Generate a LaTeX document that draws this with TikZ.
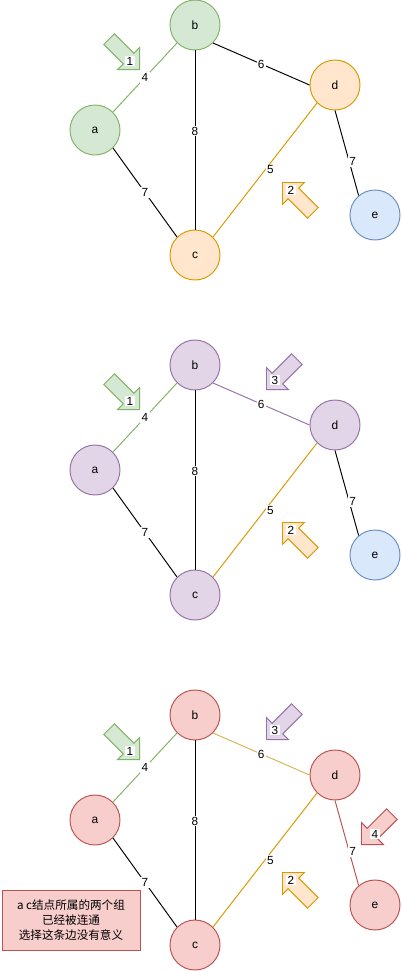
\documentclass[tikz,border=0pt]{standalone}
\usepackage{fontspec}
\setmainfont{Liberation Sans}
\newfontfamily\cjk{Noto Sans CJK SC}
\usepackage{tikz}
\usetikzlibrary{shapes.arrows}

\definecolor{grfill}{HTML}{D5E8D4}
\definecolor{grline}{HTML}{82B366}
\definecolor{orfill}{HTML}{FFE6CC}
\definecolor{orline}{HTML}{D79B00}
\definecolor{bufill}{HTML}{DAE8FC}
\definecolor{buline}{HTML}{6C8EBF}
\definecolor{pufill}{HTML}{E1D5E7}
\definecolor{puline}{HTML}{9673A6}
\definecolor{refill}{HTML}{F8CECC}
\definecolor{reline}{HTML}{B85450}
\definecolor{yeline}{HTML}{D6B656}

\tikzset{
  vtx/.style={circle, draw, minimum size=1cm, inner sep=0pt},
  grv/.style={vtx, fill=grfill, draw=grline},
  orv/.style={vtx, fill=orfill, draw=orline},
  buv/.style={vtx, fill=bufill, draw=buline},
  puv/.style={vtx, fill=pufill, draw=puline},
  rev/.style={vtx, fill=refill, draw=reline},
  wt/.style={fill=white, text=black, inner sep=0.7pt, font=\fontsize{6.7}{7.5}\selectfont},
  blk/.style={single arrow, draw, anchor=tip, minimum height=0.86cm,
    inner sep=0.14cm, single arrow head extend=0.16cm},
}

\begin{document}
\begin{tikzpicture}[x=0.02cm, y=-0.02cm, line width=0.55pt,
  font=\fontsize{6.8}{8}\selectfont]
\useasboundingbox (0,0) rectangle (402,971);

% Step 1
\node[grv] (b1) at (195,25) {b};
\node[grv] (a1) at (95,130) {a};
\node[orv] (c1) at (195,255) {c};
\node[orv] (d1) at (335,85) {d};
\node[buv] (e1) at (375,215) {e};

\draw[grline] (a1.45) -- node[wt] {4} (b1.225);
\draw (b1.-45) -- node[wt] {6} (d1.west);
\draw (b1.south) -- node[wt, pos=0.45] {8} (c1.north);
\draw (a1.-45) -- node[wt] {7} (c1.135);
\draw[orline] (c1.45) -- node[wt, xshift=3pt] {5} (d1.-135);
\draw (d1.south) -- node[wt, pos=0.6, xshift=2pt] {7} (e1.130);

\node[blk, fill=grfill, draw=grline, rotate=-45] (p1) at (140,70) {};
\node[wt] (n1) at (130,61) {1};
\node[blk, fill=orfill, draw=orline, rotate=135] (p2) at (282,182) {};
\node[wt] (n2) at (291,190) {2};

% Step 2
\begin{scope}[shift={(0,340)}]
\node[puv] (b2) at (195,25) {b};
\node[puv] (a2) at (95,130) {a};
\node[puv] (c2) at (195,255) {c};
\node[puv] (d2) at (335,85) {d};
\node[buv] (e2) at (375,215) {e};

\draw[grline] (a2.45) -- node[wt] {4} (b2.225);
\draw[puline] (b2.-45) -- node[wt] {6} (d2.west);
\draw (b2.south) -- node[wt, pos=0.45] {8} (c2.north);
\draw (a2.-45) -- node[wt] {7} (c2.135);
\draw[orline] (c2.45) -- node[wt, xshift=3pt] {5} (d2.-135);
\draw (d2.south) -- node[wt, pos=0.6, xshift=2pt] {7} (e2.130);

\node[blk, fill=grfill, draw=grline, rotate=-45] (q1) at (140,70) {};
\node[wt] (m1) at (130,61) {1};
\node[blk, fill=orfill, draw=orline, rotate=135] (q2) at (282,182) {};
\node[wt] (m2) at (291,190) {2};
\node[blk, fill=pufill, draw=puline, rotate=-135] (q3) at (266,50) {};
\node[wt] (m3) at (275,40) {3};
\end{scope}

% Step 3
\begin{scope}[shift={(0,690)}]
\node[rev] (b3) at (195,25) {b};
\node[rev] (a3) at (95,130) {a};
\node[rev] (c3) at (195,255) {c};
\node[rev] (d3) at (335,85) {d};
\node[rev] (e3) at (375,215) {e};

\draw[grline] (a3.45) -- node[wt] {4} (b3.225);
\draw[yeline] (b3.-45) -- node[wt] {6} (d3.west);
\draw (b3.south) -- node[wt, pos=0.45] {8} (c3.north);
\draw (a3.-45) -- node[wt] {7} (c3.135);
\draw[orline] (c3.45) -- node[wt, xshift=3pt] {5} (d3.-135);
\draw[reline] (d3.south) -- node[wt, pos=0.6, xshift=2pt] {7} (e3.130);

\node[blk, fill=grfill, draw=grline, rotate=-45] (r1) at (140,70) {};
\node[wt] (k1) at (130,61) {1};
\node[blk, fill=orfill, draw=orline, rotate=135] (r2) at (282,182) {};
\node[wt] (k2) at (291,190) {2};
\node[blk, fill=pufill, draw=puline, rotate=-135] (r3) at (266,50) {};
\node[wt] (k3) at (275,40) {3};
\node[blk, fill=refill, draw=reline, rotate=-135] (r4) at (361,155) {};
\node[wt] (k4) at (375,144) {4};

\node[draw=reline, fill=refill, minimum width=2.76cm, minimum height=1.2cm,
  align=center, font=\cjk\fontsize{6.6}{8.5}\selectfont] (note) at (71,230)
  {a c结点所属的两个组\\已经被连通\\选择这条边没有意义};
\end{scope}
\end{tikzpicture}
\end{document}
